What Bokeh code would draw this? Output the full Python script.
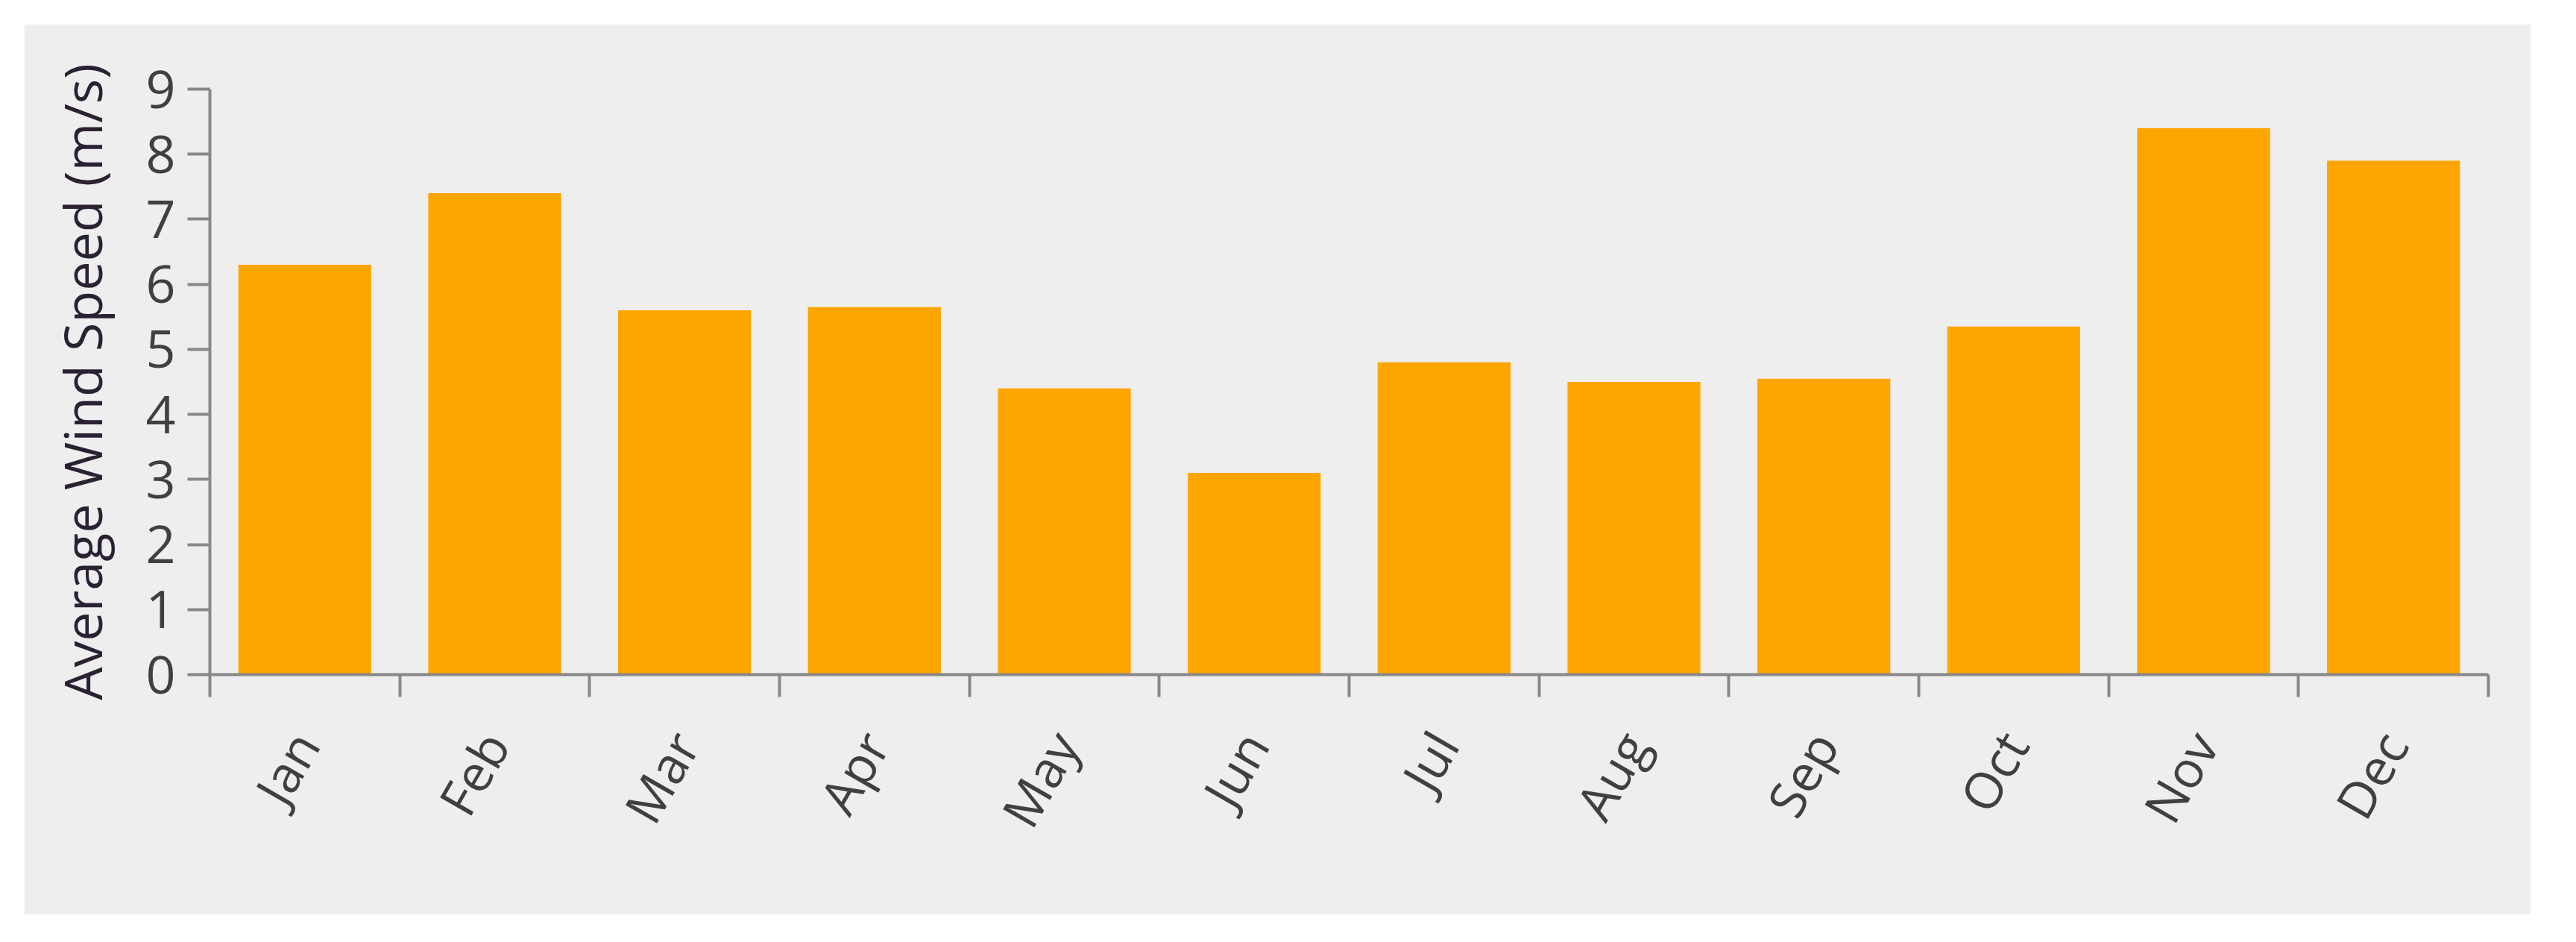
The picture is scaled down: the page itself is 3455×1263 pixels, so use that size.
import math
import numpy as np
from bokeh.plotting import figure
from bokeh.models import Range1d, FixedTicker, ColumnDataSource
from bokeh.embed import file_html
from bokeh.resources import INLINE

months = ["Jan", "Feb", "Mar", "Apr", "May", "Jun",
          "Jul", "Aug", "Sep", "Oct", "Nov", "Dec"]
wind_speed = [6.3, 7.4, 5.6, 5.65, 4.4, 3.1, 4.8, 4.5, 4.55, 5.35, 8.4, 7.9]
y_ticks = [0, 1, 2, 3, 4, 5, 6, 7, 8, 9]
y_label = "Average Wind Speed (m/s)"

FONT = "Open Sans"
BG = "#eeeeee"

n = len(months)
centers = [i + 0.5 for i in range(n)]
bounds = list(range(n + 1))

src = ColumnDataSource(data=dict(x=centers, top=wind_speed, month=months))

p = figure(width=3362, height=1194,
           x_range=Range1d(0, n), y_range=Range1d(0, max(y_ticks)),
           output_backend="svg", toolbar_location=None, tools="",
           min_border_left=249, min_border_right=57,
           min_border_top=87, min_border_bottom=322)
p.margin = (32, 0, 0, 32)

p.vbar(x="x", top="top", width=0.7, bottom=0, source=src,
       fill_color="#ffa500", line_color=None)

p.background_fill_color = BG
p.border_fill_color = BG
p.outline_line_color = None
p.grid.visible = False

# x axis: labels at category centres, tick marks at category boundaries
xa = p.xaxis[0]
xa.ticker = FixedTicker(ticks=centers, minor_ticks=bounds)
xa.major_label_overrides = {c: m for c, m in zip(centers, months)}
xa.major_tick_in = 0
xa.major_tick_out = 0
xa.minor_tick_in = 0
xa.minor_tick_out = 30
xa.minor_tick_line_color = "#888888"
xa.minor_tick_line_width = 4
xa.axis_line_color = "#888888"
xa.axis_line_width = 4
xa.major_label_orientation = math.pi / 3
xa.major_label_standoff = 52
xa.major_label_text_font = FONT
xa.major_label_text_font_size = "68px"
xa.major_label_text_color = "#404040"

ya = p.yaxis[0]
ya.ticker = FixedTicker(ticks=y_ticks)
ya.major_tick_in = 0
ya.major_tick_out = 30
ya.minor_tick_out = 0
ya.minor_tick_in = 0
ya.major_tick_line_color = "#888888"
ya.major_tick_line_width = 4
ya.axis_line_color = "#888888"
ya.axis_line_width = 4
ya.major_label_standoff = 16
ya.major_label_text_font = FONT
ya.major_label_text_font_size = "70px"
ya.major_label_text_color = "#404040"
ya.axis_label = y_label
ya.axis_label_text_font = FONT
ya.axis_label_text_font_size = "70px"
ya.axis_label_text_font_style = "normal"
ya.axis_label_text_color = "#2a2233"
ya.axis_label_standoff = 34

open("out.html", "w").write(file_html(p, INLINE))
